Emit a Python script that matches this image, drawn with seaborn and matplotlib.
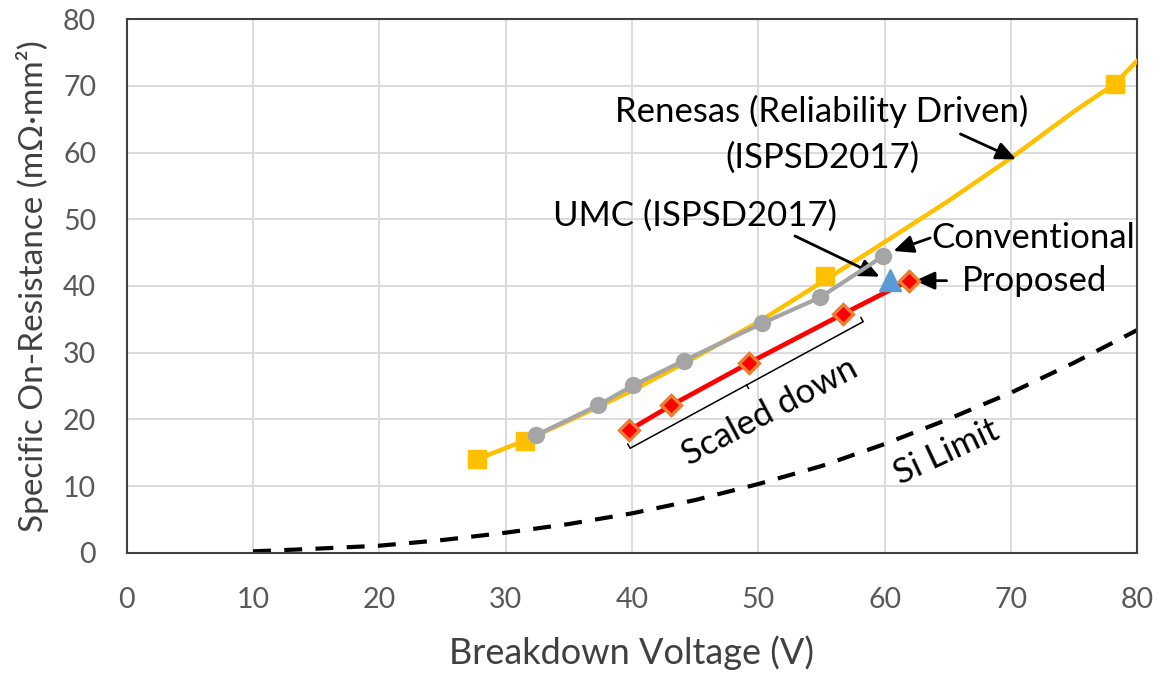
import numpy as np
import pandas as pd
import matplotlib
matplotlib.use("Agg")
import matplotlib.pyplot as plt
import seaborn as sns

# ---- data ----
renesas_bv = [27.7, 31.5, 55.3, 78.2]
renesas_ron = [14.0, 16.8, 41.5, 70.3]
renesas_curve_bv = [27.7, 31.5, 35, 40, 45, 50, 55.3, 60, 65, 70, 75, 78.2, 80]
renesas_curve_ron = [14.0, 16.8, 19.8, 24.3, 29.3, 34.6, 40.9, 46.6, 52.7, 59.2, 66.2, 70.3, 73.8]

conv_bv = [32.4, 37.3, 40.1, 44.1, 50.3, 54.9, 59.9]
conv_ron = [17.6, 22.1, 25.1, 28.8, 34.4, 38.3, 44.5]

prop_bv = [39.8, 43.1, 49.3, 56.7, 61.9]
prop_ron = [18.4, 22.1, 28.5, 35.8, 40.8]

umc_bv = [60.4]
umc_ron = [40.9]

si_bv = [10, 15, 20, 25, 30, 35, 40, 45, 50, 55, 60, 65, 70, 75, 80]
si_ron = [0.2, 0.6, 1.05, 1.9, 3.0, 4.3, 5.9, 7.9, 10.3, 13.0, 16.3, 20.0, 24.0, 28.5, 33.4]

x_ticks = [0, 10, 20, 30, 40, 50, 60, 70, 80]
y_ticks = [0, 10, 20, 30, 40, 50, 60, 70, 80]

YELLOW = "#FFC000"
GRAY = "#A5A5A5"
RED = "#FF0000"
ORANGE = "#ED7D31"
BLUE = "#5B9BD5"

sns.set_theme(style="white")
FONT = ["Lato", "DejaVu Sans"]
plt.rcParams["font.family"] = FONT

fig = plt.figure(figsize=(11.59, 6.75), dpi=100)
ax = fig.add_axes([126.7 / 1159, 1 - 552.7 / 675, (1137.3 - 126.7) / 1159, (552.7 - 19.3) / 675])

# Si limit
sns.lineplot(x=si_bv, y=si_ron, ax=ax, color="black", lw=3.0, sort=False, estimator=None,
             linestyle=(0, (4.3, 3.2)), zorder=2)
# Renesas curve + markers
sns.lineplot(x=renesas_curve_bv, y=renesas_curve_ron, ax=ax, color=YELLOW, lw=3.2,
             sort=False, estimator=None, zorder=3)
ax.plot(renesas_bv, renesas_ron, linestyle="none", marker="s", ms=12.5, color=YELLOW, zorder=4)
# Conventional
sns.lineplot(x=conv_bv, y=conv_ron, ax=ax, color=GRAY, lw=3.0, marker="o", ms=12.5,
             markeredgewidth=0, sort=False, estimator=None, zorder=5)
# Proposed line
sns.lineplot(x=prop_bv, y=prop_ron, ax=ax, color=RED, lw=3.4,
             sort=False, estimator=None, zorder=6)
# UMC
ax.plot(umc_bv, umc_ron, linestyle="none", marker="^", ms=16, color=BLUE, zorder=7)
# Proposed markers
ax.plot(prop_bv, prop_ron, linestyle="none", marker="D", ms=10.5,
        markerfacecolor=RED, markeredgecolor=ORANGE, markeredgewidth=2.4, zorder=8)

ax.set_xlim(0, 80)
ax.set_ylim(0, 80)
ax.set_xticks(x_ticks)
ax.set_yticks(y_ticks)
ax.grid(True, color="#D9D9D9", lw=1.3)
ax.set_axisbelow(True)
for s in ax.spines.values():
    s.set_visible(True)
    s.set_color("#404040")
    s.set_linewidth(1.5)
ax.tick_params(axis="both", direction="in", length=5, width=1.2, color="#404040",
               labelsize=20.5, labelcolor="#595959")
ax.tick_params(axis="y", pad=22)
ax.tick_params(axis="x", pad=25)

ax.set_xlabel("Breakdown Voltage (V)", fontsize=26, color="#404040", labelpad=16)
ax.set_ylabel("Specific On-Resistance (mΩ·mm²)", fontsize=24, color="#404040", labelpad=10)

TXT = dict(fontsize=25, color="black")
AP = dict(arrowstyle="-|>,head_length=1.0,head_width=0.45", color="black", lw=2.0,
          shrinkA=0, shrinkB=0)

ax.text(55.05, 66.25, "Renesas (Reliability Driven)", ha="center", va="center", **TXT)
ax.text(55.05, 59.3, "(ISPSD2017)", ha="center", va="center", **TXT)
ax.annotate("", xy=(70.4, 59.0), xytext=(66.0, 62.8), arrowprops=AP)

ax.text(45.0, 50.6, "UMC (ISPSD2017)", ha="center", va="center", **TXT)
ax.annotate("", xy=(59.6, 41.4), xytext=(52.9, 47.5), arrowprops=AP)

ax.text(63.7, 47.2, "Conventional", ha="left", va="center", **TXT)
ax.annotate("", xy=(60.7, 45.25), xytext=(63.6, 47.2), arrowprops=AP)

ax.text(66.1, 40.8, "Proposed", ha="left", va="center", **TXT)
ax.annotate("", xy=(62.4, 40.8), xytext=(64.9, 40.8), arrowprops=AP)

# Scaled down bracket
p0 = ax.transData.transform((39.85, 15.66))
p1 = ax.transData.transform((58.3, 34.65))
d = (p1 - p0) / np.linalg.norm(p1 - p0)
perp = np.array([-d[1], d[0]])  # points up-left in display coords
inv = ax.transData.inverted()
tick = 5
pts = [p0 + perp * tick, p0, p1, p1 + perp * tick]
pts = inv.transform(np.array(pts))
ax.plot(pts[:, 0], pts[:, 1], color="black", lw=1.1, zorder=8)
mid = (p0 + p1) / 2
mpts = inv.transform(np.array([mid, mid - perp * 4]))
ax.plot(mpts[:, 0], mpts[:, 1], color="black", lw=1.1, zorder=8)
ax.text(50.9, 21.1, "Scaled down", rotation=28, ha="center", va="center",
        rotation_mode="anchor", **TXT)

ax.text(64.9, 15.1, "Si Limit", rotation=25, ha="center", va="center",
        rotation_mode="anchor", **TXT)

fig.savefig("out.png", dpi=100)
